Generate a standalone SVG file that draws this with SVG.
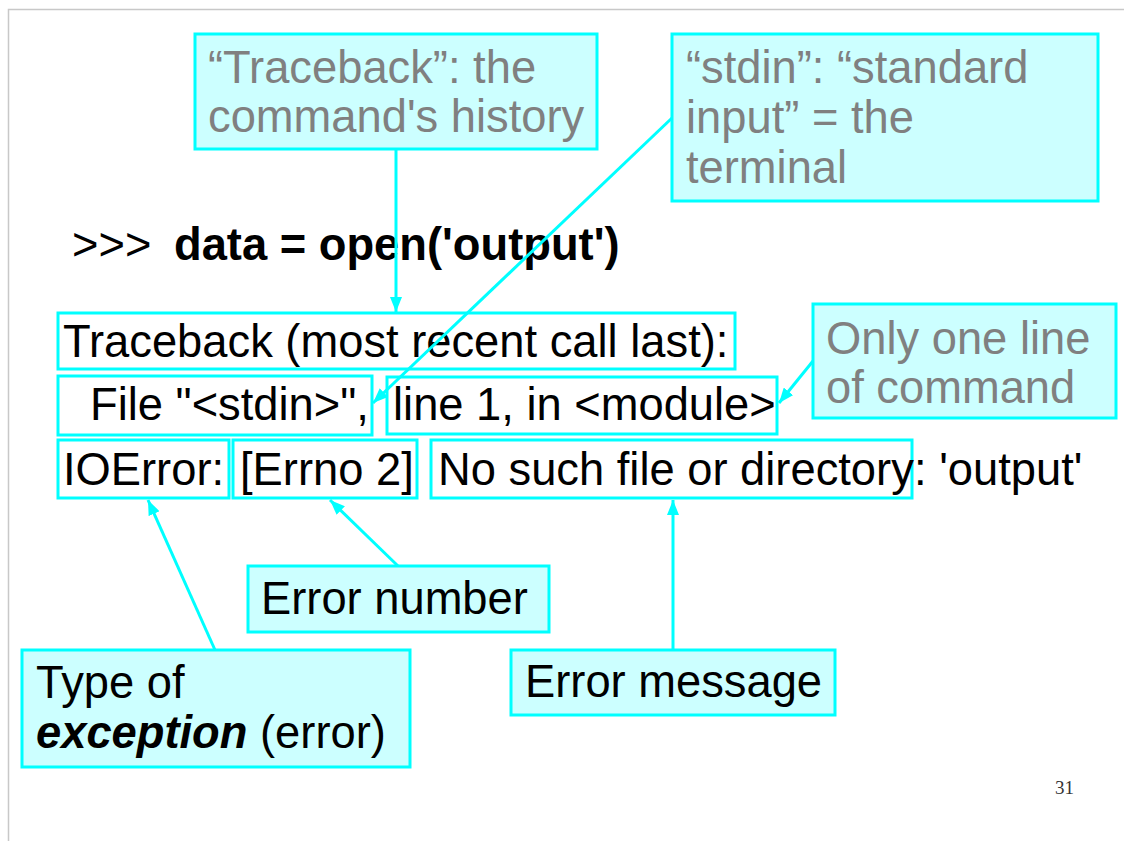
<svg xmlns="http://www.w3.org/2000/svg" width="1124" height="841" viewBox="0 0 1124 841">
  <defs>
    <marker id="head" viewBox="0 0 15 12" refX="15" refY="6" markerWidth="15" markerHeight="12" markerUnits="userSpaceOnUse" orient="auto">
      <path d="M0,0 L15,6 L0,12 Z" fill="#00ffff"/>
    </marker>
    <style>
      .t { font-family: "Liberation Sans", Arial, sans-serif; font-size: 45.3px; fill: #000; }
      .g { fill: #808080; }
      .b { font-weight: bold; }
      .bi { font-weight: bold; font-style: italic; }
      .callout { fill: #ccffff; stroke: #00ffff; stroke-width: 3; }
      .frame { fill: none; stroke: #00ffff; stroke-width: 3; }
      .link { stroke: #00ffff; stroke-width: 3; fill: none; marker-end: url(#head); }
      .page { fill: none; stroke: #c8c8c8; stroke-width: 1.5; }
      .num { font-family: "Liberation Serif", "Times New Roman", serif; font-size: 19px; fill: #333; }
    </style>
  </defs>

  <rect width="1124" height="841" fill="#ffffff"/>
  <rect class="page" x="8.5" y="9.5" width="1130" height="850"/>

  <!-- prompt line -->
  <g id="prompt">
    <text class="t" x="72" y="260">&gt;&gt;&gt;</text>
    <text class="t b" x="174" y="260">data = open('output')</text>
  </g>

  <!-- traceback lines with framed parts -->
  <g id="traceback-line">
    <rect class="frame" x="58" y="313" width="677" height="56"/>
    <text class="t" x="63" y="357">Traceback (most recent call last):</text>
  </g>
  <g id="file-part">
    <rect class="frame" x="58" y="376" width="314" height="59"/>
    <text class="t" x="90" y="420">File "&lt;stdin&gt;",</text>
  </g>
  <g id="line-part">
    <rect class="frame" x="387" y="377" width="390" height="57"/>
    <text class="t" x="393" y="420">line 1, in &lt;module&gt;</text>
  </g>
  <g id="ioerror-part">
    <rect class="frame" x="58" y="440" width="171" height="58"/>
    <text class="t" x="63" y="485">IOError:</text>
  </g>
  <g id="errno-part">
    <rect class="frame" x="233" y="440" width="184" height="58"/>
    <text class="t" x="240" y="485">[Errno 2]</text>
  </g>
  <g id="message-part">
    <rect class="frame" x="431" y="440" width="481" height="58"/>
    <text class="t" x="438" y="485">No such file or directory</text>
    <text class="t" x="914" y="485">: 'output'</text>
  </g>

  <!-- callouts -->
  <g id="traceback-note">
    <rect class="callout" x="195" y="34" width="402" height="115"/>
    <text class="t g" x="208" y="83">“Traceback”: the</text>
    <text class="t g" x="208" y="132">command's history</text>
  </g>
  <g id="stdin-note">
    <rect class="callout" x="672" y="34" width="426" height="167"/>
    <text class="t g" x="686" y="83">“stdin”: “standard</text>
    <text class="t g" x="686" y="133">input” = the</text>
    <text class="t g" x="686" y="183">terminal</text>
  </g>
  <g id="line-note">
    <rect class="callout" x="813" y="304" width="303" height="114"/>
    <text class="t g" x="826" y="354">Only one line</text>
    <text class="t g" x="826" y="403">of command</text>
  </g>
  <g id="errno-note">
    <rect class="callout" x="248" y="566" width="301" height="66"/>
    <text class="t" x="261" y="614">Error number</text>
  </g>
  <g id="type-note">
    <rect class="callout" x="22" y="650" width="388" height="117"/>
    <text class="t" x="36" y="698">Type of</text>
    <text class="t" x="36" y="748"><tspan class="bi">exception</tspan> (error)</text>
  </g>
  <g id="message-note">
    <rect class="callout" x="511" y="650" width="324" height="65"/>
    <text class="t" x="525" y="697">Error message</text>
  </g>

  <!-- connectors -->
  <g id="connectors">
    <line class="link" x1="396" y1="149" x2="396" y2="312"/>
    <line class="link" x1="672" y1="118" x2="373" y2="403"/>
    <line class="link" x1="813" y1="361" x2="779" y2="403"/>
    <line class="link" x1="398" y1="566" x2="330" y2="500"/>
    <line class="link" x1="215" y1="650" x2="148" y2="500"/>
    <line class="link" x1="673" y1="650" x2="673" y2="500"/>
  </g>

  <text class="num" x="1055" y="794">31</text>
</svg>
